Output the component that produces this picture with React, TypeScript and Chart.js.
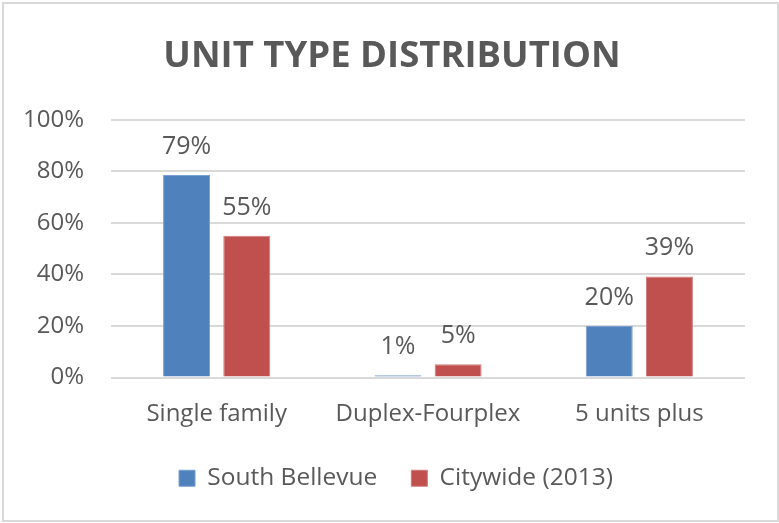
import React, { useEffect, useRef } from "react";
import { Chart, registerables } from "chart.js";

Chart.register(...registerables);

const categories = ["Single family", "Duplex-Fourplex", "5 units plus"];
const southBellevue = [78.6, 0.9, 20];
const citywide = [55, 5.1, 39.2];
const southBellevueLabels = ["79%", "1%", "20%"];
const citywideLabels = ["55%", "5%", "39%"];
const seriesNames = ["South Bellevue", "Citywide (2013)"];
const yTicks = [0, 20, 40, 60, 80, 100];

const TEXT = "#595959";
const FONT = "'Open Sans', 'Noto Sans', sans-serif";

const valueLabels = {
  id: "valueLabels",
  afterDatasetsDraw(chart: any) {
    const ctx = chart.ctx;
    const labelSets = [southBellevueLabels, citywideLabels];
    ctx.save();
    ctx.font = `25px ${FONT}`;
    ctx.fillStyle = TEXT;
    ctx.textAlign = "center";
    ctx.textBaseline = "alphabetic";
    chart.data.datasets.forEach((_: any, di: number) => {
      const meta = chart.getDatasetMeta(di);
      meta.data.forEach((bar: any, i: number) => {
        ctx.fillText(labelSets[di][i], bar.x, bar.y - 21);
      });
    });
    ctx.restore();
  },
};

// Centre title and legend over the whole chart frame (as the original does),
// not over the area left of the right padding.
const recentre = {
  id: "recentre",
  afterLayout(chart: any) {
    if (chart.titleBlock) chart.titleBlock.left = 39;
    if (chart.legend) chart.legend.left = 47;
  },
};

export default function App() {
  const ref = useRef<HTMLCanvasElement>(null);
  useEffect(() => {
    document.body.style.margin = "0";
    const chart = new Chart(ref.current!, {
      type: "bar",
      data: {
        labels: categories,
        datasets: [
          {
            label: seriesNames[0],
            data: southBellevue,
            backgroundColor: "#4F81BD",
            borderColor: "#7A9FD0",
            borderWidth: 1,
          },
          {
            label: seriesNames[1],
            data: citywide,
            backgroundColor: "#C0504D",
            borderColor: "#D07C7A",
            borderWidth: 1,
          },
        ],
      },
      options: {
        animation: false,
        responsive: false,
        maintainAspectRatio: false,
        layout: { padding: { left: 0, right: 34, top: 0, bottom: 22.5 } },
        datasets: {
          bar: { categoryPercentage: 0.57, barPercentage: 0.78 },
        },
        plugins: {
          title: {
            display: true,
            text: "UNIT TYPE DISTRIBUTION",
            color: TEXT,
            font: { family: FONT, size: 36.5, weight: "bold", lineHeight: 1.2 },
            padding: { top: 35, bottom: 41 },
          },
          legend: {
            position: "bottom",
            labels: {
              color: TEXT,
              font: { family: FONT, size: 24.5 },
              boxWidth: 16,
              boxHeight: 16,
              padding: 34,
            },
          },
          tooltip: { enabled: false },
        },
        scales: {
          x: {
            grid: { display: false, drawTicks: false },
            border: { display: false },
            ticks: {
              color: TEXT,
              font: { family: FONT, size: 24 },
              padding: 22,
            },
            afterFit: (s: any) => {
              s.height = 54.5;
            },
          },
          y: {
            min: 0,
            max: 100,
            afterBuildTicks: (s: any) => {
              s.ticks = yTicks.map((v) => ({ value: v }));
            },
            grid: { color: "#D9D9D9", lineWidth: 2, drawTicks: false },
            border: { display: false },
            ticks: {
              color: TEXT,
              font: { family: FONT, size: 24 },
              padding: 27,
              callback: (v: any) => v + "%",
            },
            afterFit: (s: any) => {
              s.width = 111;
            },
          },
        },
      },
      plugins: [valueLabels, recentre],
    });
    return () => chart.destroy();
  }, []);
  return (
    <div style={{ position: "fixed", left: 0, top: 0, width: 779, height: 523, background: "#fff" }}>
      <canvas ref={ref} width={779} height={523} style={{ display: "block" }} />
      <div
        style={{
          position: "absolute",
          left: 2,
          top: 2,
          width: 773,
          height: 516,
          border: "2px solid #D9D9D9",
          pointerEvents: "none",
        }}
      />
    </div>
  );
}
